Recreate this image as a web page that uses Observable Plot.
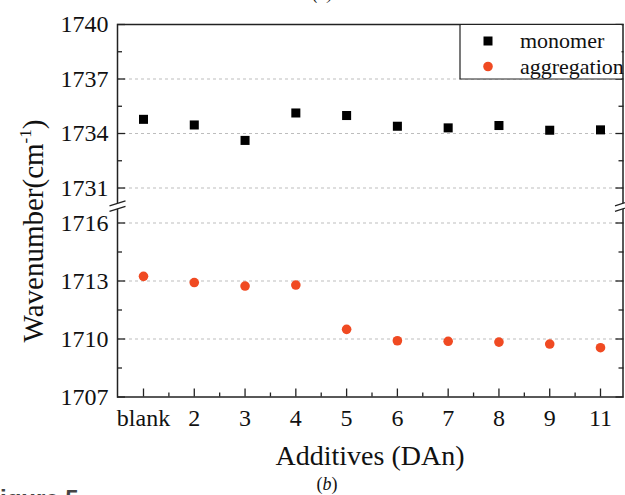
<!DOCTYPE html>
<html><head><meta charset="utf-8">
<script src="https://cdn.jsdelivr.net/npm/d3@7"></script>
<script src="https://cdn.jsdelivr.net/npm/@observablehq/plot@0.6"></script>
<style>
body{margin:0;background:#fff;overflow:hidden}
#chart{position:relative;width:625px;height:495px}
</style>
</head><body><div id="chart"></div>
<script>
const categories = ["blank","2","3","4","5","6","7","8","9","11"];
const monomer = [1734.78,1734.47,1733.62,1735.13,1734.99,1734.40,1734.31,1734.44,1734.18,1734.20];
const aggregation = [1713.24,1712.92,1712.74,1712.79,1710.50,1709.91,1709.88,1709.84,1709.74,1709.55];
const seriesNames = ["monomer","aggregation"];
const seriesColors = ["#000000","#f04a22"];
const yMajorTicks = [1707,1710,1713,1716,1731,1734,1737,1740];
const yMinorTicks = [1708.5,1711.5,1714.5,1732.5,1735.5,1738.5];
const gridTicks = [1710,1713,1716,1731,1734,1737];
const yBreakDomain = [1707,1716.75,1729.9,1740];
const breakValue = [1723];

const idx = categories.map((_, i) => i);
const minorX = idx.slice(0, -1).map(i => i + 0.5);
const monoRows = monomer.map((v, i) => ({i, v}));
const aggRows = aggregation.map((v, i) => ({i, v}));

const breakFill = {draw(ctx){ctx.moveTo(-8,-2.5);ctx.lineTo(8,-7.5);ctx.lineTo(8,-2);ctx.lineTo(-8,3);ctx.closePath();}};
const breakLines = {draw(ctx){ctx.moveTo(-8,-2.5);ctx.lineTo(8,-7.5);ctx.moveTo(-8,3);ctx.lineTo(8,-2);}};

const chart = Plot.plot({
  width: 625, height: 495,
  marginLeft: 117, marginRight: 2.5, marginTop: 24, marginBottom: 98.5,
  style: {fontFamily: "'Liberation Serif','Times New Roman',serif", fontSize: "24px", color: "#111", background: "#fff", overflow: "visible"},
  x: {type: "linear", domain: [0, categories.length - 1], range: [143, 600]},
  y: {type: "linear", domain: yBreakDomain, range: [396.5, 208, 207.5, 24]},
  marks: [
    Plot.gridY(gridTicks, {stroke: "#b5b5b5", strokeOpacity: 1, strokeDasharray: "3,3", strokeWidth: 0.9}),
    Plot.frame({stroke: "#222", strokeWidth: 1.5}),
    Plot.axisY(yMajorTicks, {anchor: "left", tickSize: 0, tickPadding: 9, tickFormat: d => String(d), label: null, fontSize: 24}),
    Plot.axisY(yMajorTicks, {anchor: "left", tickSize: -8, fill: "none", label: null, stroke: "#222", strokeWidth: 1.3}),
    Plot.axisY(yMinorTicks, {anchor: "left", tickSize: -5, fill: "none", label: null, stroke: "#222", strokeWidth: 1.3}),
    Plot.axisY(yMajorTicks, {anchor: "right", tickSize: -8, fill: "none", label: null, stroke: "#222", strokeWidth: 1.3}),
    Plot.axisY(yMinorTicks, {anchor: "right", tickSize: -5, fill: "none", label: null, stroke: "#222", strokeWidth: 1.3}),
    Plot.axisX(idx, {anchor: "bottom", tickSize: 0, tickPadding: 11.5, tickFormat: i => categories[i], label: null, fontSize: 24}),
    Plot.axisX(idx, {anchor: "bottom", tickSize: -8, fill: "none", label: null, stroke: "#222", strokeWidth: 1.3}),
    Plot.axisX(minorX, {anchor: "bottom", tickSize: -4, fill: "none", label: null, stroke: "#222", strokeWidth: 1.3}),
    Plot.dot(breakValue, {y: d => d, frameAnchor: "left", symbol: breakFill, r: 8, fill: "white", stroke: "none"}),
    Plot.dot(breakValue, {y: d => d, frameAnchor: "right", symbol: breakFill, r: 8, fill: "white", stroke: "none"}),
    Plot.dot(breakValue, {y: d => d, frameAnchor: "left", symbol: breakLines, r: 8, fill: "none", stroke: "#222", strokeWidth: 1.3}),
    Plot.dot(breakValue, {y: d => d, frameAnchor: "right", symbol: breakLines, r: 8, fill: "none", stroke: "#222", strokeWidth: 1.3}),
    Plot.dot(monoRows, {x: "i", y: "v", symbol: "square", r: 5.1, fill: seriesColors[0], stroke: "none"}),
    Plot.dot(aggRows, {x: "i", y: "v", symbol: "circle", r: 4.8, fill: seriesColors[1], stroke: "none"})
  ]
});
document.getElementById("chart").appendChild(chart);

const svg = d3.select(chart);
// legend
const lg = svg.append("g").attr("text-anchor", "start");
lg.append("rect").attr("x", 460.5).attr("y", 25).attr("width", 161).attr("height", 54).attr("fill", "white");
lg.append("path").attr("d", "M460,24V79H622.5").attr("fill", "none").attr("stroke", "#222").attr("stroke-width", 1.2);
seriesNames.forEach((name, k) => {
  const cy = 41 + k * 25.5;
  lg.append("path")
    .attr("transform", `translate(488,${cy})`)
    .attr("d", d3.symbol(k === 0 ? d3.symbolSquare : d3.symbolCircle, k === 0 ? 81 : Math.PI * 4.8 * 4.8)())
    .attr("fill", seriesColors[k]);
  lg.append("text").attr("x", 520).attr("y", cy + 7).attr("text-anchor", "start").attr("font-size", 22).attr("fill", "#111").text(name);
});
// axis titles
svg.append("text").attr("x", 370).attr("y", 465).attr("text-anchor", "middle").attr("font-size", 28).attr("fill", "#111").text("Additives (DAn)");
const yt = svg.append("text").attr("transform", "translate(43,231) rotate(-90)").attr("text-anchor", "middle").attr("font-size", 29).attr("fill", "#111");
yt.append("tspan").text("Wavenumber(cm");
yt.append("tspan").attr("font-size", 17).attr("dy", -12).text("-1");
yt.append("tspan").attr("font-size", 29).attr("dy", 12).text(")");
// panel labels
svg.append("text").attr("x", 323).attr("y", -1).attr("text-anchor", "middle").attr("font-size", 18).attr("font-style", "italic").attr("fill", "#111").text("(a)");
svg.append("text").attr("x", 327).attr("y", 490).attr("text-anchor", "middle").attr("font-size", 18).attr("fill", "#111")
  .call(t => { t.append("tspan").text("("); t.append("tspan").attr("font-style", "italic").text("b"); t.append("tspan").text(")"); });
svg.append("text").attr("x", -14.7).attr("y", 507).attr("text-anchor", "start").attr("font-size", 24).attr("font-weight", "bold").attr("font-family", "'Liberation Sans',Arial,sans-serif").attr("fill", "#444").text("Figure 5");
</script>
</body></html>
